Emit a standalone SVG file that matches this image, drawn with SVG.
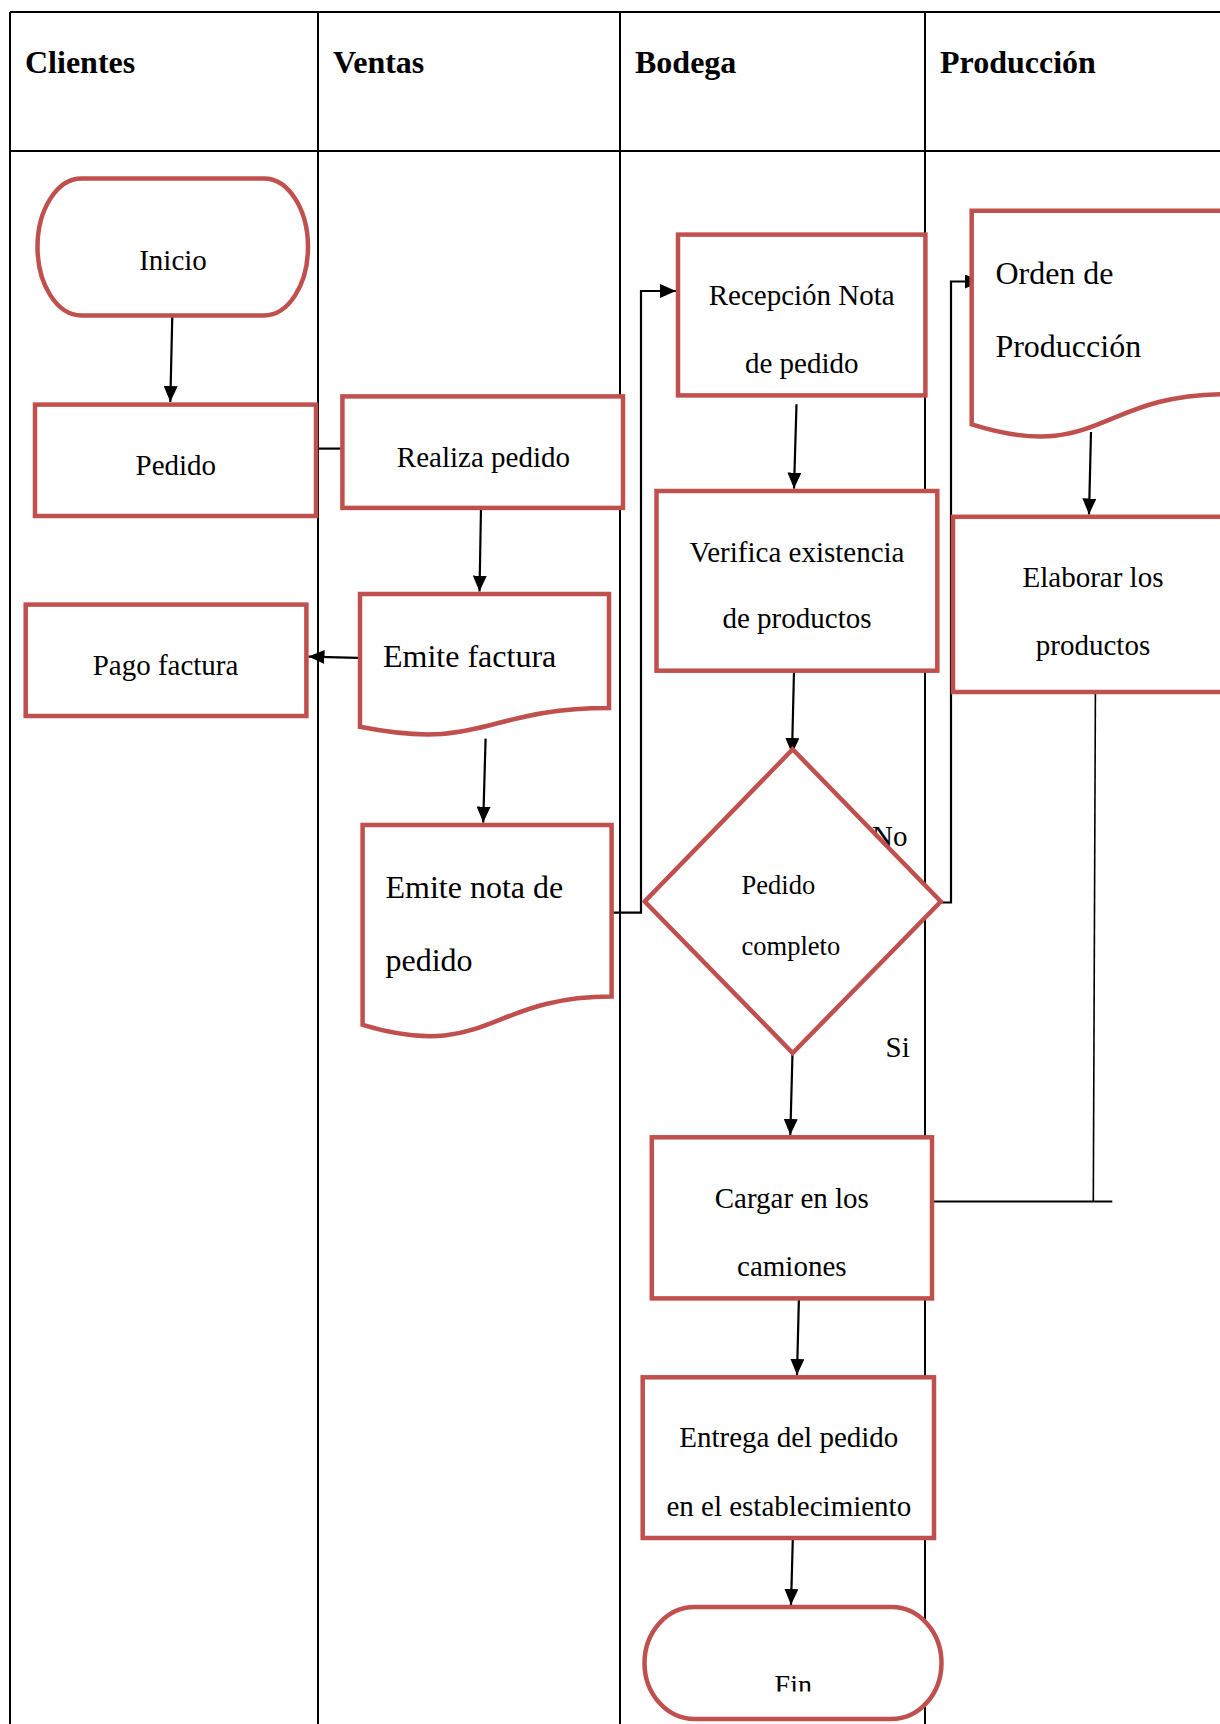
<svg xmlns="http://www.w3.org/2000/svg" width="1220" height="1724" viewBox="0 0 1220 1724">
  <style>
    .lane { stroke: #000; stroke-width: 2; fill: none; }
    .node { fill: #fff; stroke: #C0504D; stroke-width: 4.5; }
    .conn { stroke: #000; stroke-width: 2.2; fill: none; }
    .head { font-family: "Liberation Serif", "Times New Roman", serif; font-weight: bold; font-size: 32px; fill: #000; }
    .t { font-family: "Liberation Serif", "Times New Roman", serif; font-size: 29px; fill: #000; }
    .tc { text-anchor: middle; }
    .big { font-size: 32px; }
    .small { font-size: 26.5px; }
  </style>
  <defs>
    <marker id="arrow" markerWidth="16" markerHeight="14" refX="16" refY="7" orient="auto" markerUnits="userSpaceOnUse">
      <path d="M0,0 L16,7 L0,14 z" fill="#000"/>
    </marker>
    <clipPath id="finClip">
      <rect x="640" y="1600" width="310" height="91.5"/>
    </clipPath>
  </defs>
  <rect width="1220" height="1724" fill="#fff"/>

  <!-- swimlane table -->
  <g id="lanes">
    <line class="lane" x1="10" y1="12" x2="1220" y2="12"/>
    <line class="lane" x1="10" y1="151" x2="1220" y2="151"/>
    <line class="lane" x1="10" y1="12" x2="10" y2="1724"/>
    <line class="lane" x1="318" y1="12" x2="318" y2="1724"/>
    <line class="lane" x1="620" y1="12" x2="620" y2="1724"/>
    <line class="lane" x1="925" y1="12" x2="925" y2="1724"/>
    <text class="head" x="25" y="73">Clientes</text>
    <text class="head" x="333" y="73">Ventas</text>
    <text class="head" x="635" y="73">Bodega</text>
    <text class="head" x="940" y="73">Producción</text>
  </g>

  <!-- connectors -->
  <g id="connectors">
    <path class="conn" d="M172.3,315.4 L170.3,402" marker-end="url(#arrow)"/>
    <path class="conn" d="M316,448.6 H342.4"/>
    <path class="conn" d="M481,508 L479.5,591.6" marker-end="url(#arrow)"/>
    <path class="conn" d="M358,657.8 L308.5,656.6" marker-end="url(#arrow)"/>
    <path class="conn" d="M485.6,738.6 L483.2,822.6" marker-end="url(#arrow)"/>
    <path class="conn" d="M611.7,912.7 H641 V291 H676" marker-end="url(#arrow)"/>
    <path class="conn" d="M796.5,404.3 L794,488.6" marker-end="url(#arrow)"/>
    <path class="conn" d="M794,670.7 L792,754" marker-end="url(#arrow)"/>
    <path class="conn" d="M940.8,902.5 H951 V281.5 H981" marker-end="url(#arrow)"/>
    <path class="conn" d="M1091,432 L1089,514.5" marker-end="url(#arrow)"/>
    <path class="conn" d="M792.5,1053 L790.3,1135" marker-end="url(#arrow)"/>
    <path class="conn" d="M1095.4,692 L1093.3,1201.5" style="stroke-width:1.6"/>
    <path class="conn" d="M932,1201.5 H1112.3"/>
    <path class="conn" d="M798.9,1298.4 L797,1375" marker-end="url(#arrow)"/>
    <path class="conn" d="M793,1532 L791,1605" marker-end="url(#arrow)"/>
    <text class="t" x="872" y="846">No</text>
    <text class="t" x="885.5" y="1057">Si</text>
  </g>

  <!-- Clientes lane -->
  <g id="inicio">
    <rect class="node" x="37.5" y="178.6" width="270.5" height="136.8" rx="44" ry="68.4"/>
    <text class="t tc" x="173" y="270.4">Inicio</text>
  </g>
  <g id="pedido">
    <rect class="node" x="35" y="404.6" width="281" height="111.4"/>
    <text class="t tc" x="175.8" y="475">Pedido</text>
  </g>
  <g id="pago-factura">
    <rect class="node" x="25.7" y="604.6" width="280.7" height="111.4"/>
    <text class="t tc" x="165.5" y="675">Pago factura</text>
  </g>

  <!-- Ventas lane -->
  <g id="realiza-pedido">
    <rect class="node" x="342.4" y="396.4" width="280.6" height="111.5"/>
    <text class="t tc" x="483.4" y="467">Realiza pedido</text>
  </g>
  <g id="emite-factura">
    <path class="node" d="M360,594 H609 V708 C484.5,708 484.5,751.6 360,726.8 Z"/>
    <text class="t big" x="383" y="667">Emite factura</text>
  </g>
  <g id="emite-nota">
    <path class="node" d="M362.6,825 H611.6 V996.6 C487.1,996.6 487.1,1062.1 362.6,1024.9 Z"/>
    <text class="t big" x="385.5" y="897.5">Emite nota de</text>
    <text class="t big" x="385.5" y="970.7">pedido</text>
  </g>

  <!-- Bodega lane -->
  <g id="recepcion-nota">
    <rect class="node" x="678" y="234.6" width="247.4" height="160.8"/>
    <text class="t tc" x="801.7" y="305.4">Recepción Nota</text>
    <text class="t tc" x="801.7" y="372.5">de pedido</text>
  </g>
  <g id="verifica-existencia">
    <rect class="node" x="656.5" y="491" width="280.8" height="179.7"/>
    <text class="t tc" x="797" y="562">Verifica existencia</text>
    <text class="t tc" x="797" y="628">de productos</text>
  </g>
  <g id="pedido-completo">
    <polygon class="node" points="792.7,749.3 940.8,901.5 792.7,1053 644.7,901.5"/>
    <text class="t small" x="741.6" y="894">Pedido</text>
    <text class="t small" x="741.6" y="954.6">completo</text>
  </g>
  <g id="cargar-camiones">
    <rect class="node" x="651.8" y="1137.3" width="280.2" height="161.1"/>
    <text class="t tc" x="791.8" y="1208">Cargar en los</text>
    <text class="t tc" x="791.8" y="1276">camiones</text>
  </g>
  <g id="entrega-pedido">
    <rect class="node" x="642.7" y="1377.3" width="291.3" height="160.7"/>
    <text class="t tc" x="788.8" y="1447.4">Entrega del pedido</text>
    <text class="t tc" x="788.8" y="1515.6">en el establecimiento</text>
  </g>
  <g id="fin">
    <rect class="node" x="644.5" y="1607" width="297" height="112" rx="50" ry="56"/>
    <text class="t tc" x="793.3" y="1694" style="font-size:28px" clip-path="url(#finClip)">Fin</text>
  </g>

  <!-- Producción lane -->
  <g id="orden-produccion">
    <path class="node" d="M971.7,210.7 H1225.7 V394.1 C1098.7,394.1 1098.7,464.1 971.7,424.3 Z"/>
    <text class="t big" x="995.4" y="284">Orden de</text>
    <text class="t big" x="995.4" y="357">Producción</text>
  </g>
  <g id="elaborar-productos">
    <rect class="node" x="953" y="516.8" width="280" height="175.2"/>
    <text class="t tc" x="1093" y="587">Elaborar los</text>
    <text class="t tc" x="1093" y="654.6">productos</text>
  </g>
</svg>
